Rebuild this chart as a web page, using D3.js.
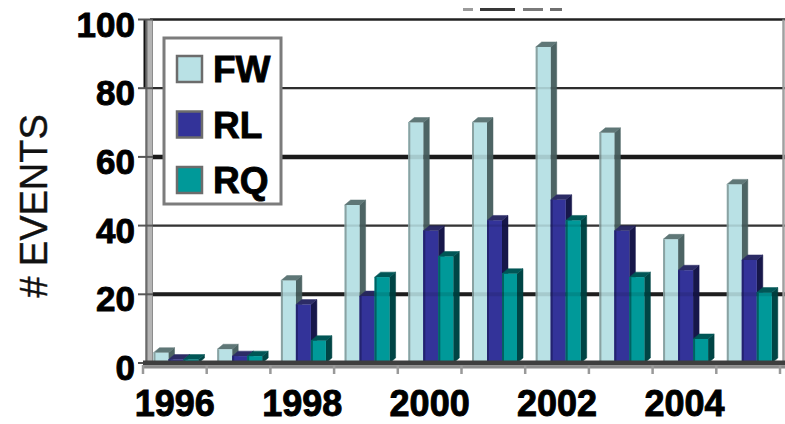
<!DOCTYPE html>
<html>
<head>
<meta charset="utf-8">
<script src="https://cdn.jsdelivr.net/npm/d3@7"></script>
<style>
  html, body { margin: 0; padding: 0; background: #fff; }
  svg { display: block; }
  text { font-family: "Liberation Sans", Arial, sans-serif; }
</style>
</head>
<body>
<svg id="chart" width="785" height="424"></svg>
<script>
// Events per year, three event types
const years = ["1996", "1997", "1998", "1999", "2000", "2001", "2002", "2003", "2004", "2005"];
const seriesNames = ["FW", "RL", "RQ"];
const fwValues = [3, 4, 24, 46, 70, 70, 92, 67, 36, 52];
const rlValues = [1, 2, 17, 19.5, 38.5, 41.5, 47.5, 38.5, 27, 30];
const rqValues = [1, 2, 6.5, 25, 31, 26, 41.5, 25, 7, 20.5];
const yTicks = [0, 20, 40, 60, 80, 100];
const xTickLabels = ["1996", "1998", "2000", "2002", "2004"];
const yTitle = "# EVENTS";

const seriesValues = [fwValues, rlValues, rqValues];

// face shades per series: front, side, top, outline
const palette = {
  FW: { front: "#b9e1e5", side: "#4d6464", top: "#5f7777", edge: "#8aa2a2" },
  RL: { front: "#333399", side: "#17174a", top: "#2c2c66", edge: "#232370" },
  RQ: { front: "#009999", side: "#004545", top: "#005656", edge: "#006262" }
};

const svg = d3.select("#chart");

const x0 = 143, x1 = 780;
const y = d3.scaleLinear().domain([0, 100]).range([363, 19.5]);
const x = d3.scaleBand().domain(years).range([x0, x1]).padding(0);
const xs = d3.scaleBand().domain(seriesNames).range([10.5, 55.5]).padding(0);
const depthX = 6, depthY = 5;

// back wall gridlines
const gridStyle = { 20: [4, "#222"], 40: [2.2, "#3a3a3a"], 60: [4.5, "#1e1e1e"], 80: [2.2, "#333"], 100: [2.6, "#222"] };
svg.append("g").selectAll("line")
  .data(yTicks.filter(d => d > 0))
  .join("line")
  .attr("x1", 150).attr("x2", 785)
  .attr("y1", d => y(d)).attr("y2", d => y(d))
  .attr("stroke", d => gridStyle[d][1])
  .attr("stroke-width", d => gridStyle[d][0]);

// right wall edge
svg.append("line")
  .attr("x1", 783.5).attr("x2", 783.5)
  .attr("y1", y(100)).attr("y2", y(0))
  .attr("stroke", "#a0a0a0").attr("stroke-width", 2.5);

// left side wall
svg.append("rect")
  .attr("x", 145).attr("y", y(100)).attr("width", 8).attr("height", y(0) - y(100))
  .attr("fill", "#b4b4b4");
svg.append("line")
  .attr("x1", 146.5).attr("x2", 146.5).attr("y1", y(100)).attr("y2", y(0))
  .attr("stroke", "#6a6a6a").attr("stroke-width", 2);
svg.append("line")
  .attr("x1", 144.5).attr("x2", 144.5).attr("y1", y(100)).attr("y2", y(80))
  .attr("stroke", "#111").attr("stroke-width", 2);
svg.append("line")
  .attr("x1", 152.5).attr("x2", 152.5).attr("y1", y(100)).attr("y2", y(0))
  .attr("stroke", "#8c8c8c").attr("stroke-width", 1);

// y ticks
svg.append("g").selectAll("line")
  .data(yTicks)
  .join("line")
  .attr("x1", 138).attr("x2", 153)
  .attr("y1", d => y(d)).attr("y2", d => y(d))
  .attr("stroke", "#555").attr("stroke-width", 2);

// y tick labels
svg.append("g").selectAll("text")
  .data(yTicks)
  .join("text")
  .attr("x", 135).attr("y", d => y(d) + 17)
  .attr("text-anchor", "end")
  .attr("font-size", 35).attr("font-weight", "bold")
  .attr("fill", "#000").attr("stroke", "#000").attr("stroke-width", 0.9)
  .text(d => d);

// axis title
svg.append("text")
  .attr("transform", "translate(47,206) rotate(-90)")
  .attr("text-anchor", "middle")
  .attr("font-size", 38)
  .attr("fill", "#111").attr("stroke", "#111").attr("stroke-width", 0.4)
  .text(yTitle);

// 3D columns
const rows = years.map((yr, i) => ({ year: yr, values: seriesNames.map((s, j) => ({ key: s, value: seriesValues[j][i] })) }));

const barsG = svg.append("g");
rows.forEach(row => {
  row.values.forEach(d => {
    const left = x(row.year) + xs(d.key);
    const w = xs.bandwidth();
    const top = y(d.value);
    const base = y(0);
    const c = palette[d.key];
    const g = barsG.append("g");
    // side face
    g.append("path")
      .attr("d", `M${left + w},${top} L${left + w + depthX},${top - depthY} L${left + w + depthX},${base - depthY} L${left + w},${base} Z`)
      .attr("fill", c.side).attr("stroke", c.side).attr("stroke-width", 0.5);
    // top face
    g.append("path")
      .attr("d", `M${left},${top} L${left + depthX},${top - depthY} L${left + w + depthX},${top - depthY} L${left + w},${top} Z`)
      .attr("fill", c.top).attr("stroke", c.top).attr("stroke-width", 0.5);
    // front face
    g.append("rect")
      .attr("x", left).attr("y", top).attr("width", w).attr("height", base - top)
      .attr("fill", c.front);
    g.append("line")
      .attr("x1", left + 1).attr("x2", left + 1).attr("y1", top).attr("y2", base)
      .attr("stroke", c.edge).attr("stroke-width", 2);
  });
});

// faint gridline show-through over the columns
svg.append("g").selectAll("line")
  .data(yTicks.filter(d => d > 0 && d < 100))
  .join("line")
  .attr("x1", 153).attr("x2", 783)
  .attr("y1", d => y(d)).attr("y2", d => y(d))
  .attr("stroke", "#000").attr("stroke-opacity", 0.1)
  .attr("stroke-width", d => gridStyle[d][0]);

// floor
svg.append("rect")
  .attr("x", x0).attr("y", y(0) - 2.5).attr("width", 785 - x0).attr("height", 5)
  .attr("fill", "#3e3e3e");
svg.append("rect")
  .attr("x", x0).attr("y", y(0) + 2.5).attr("width", 785 - x0).attr("height", 3)
  .attr("fill", "#8a8a8a");

// category boundary ticks
svg.append("g").selectAll("line")
  .data(years.map(d => x(d)).concat([x1]))
  .join("line")
  .attr("x1", d => d).attr("x2", d => d)
  .attr("y1", y(0) + 2).attr("y2", y(0) + 11)
  .attr("stroke", "#999").attr("stroke-width", 2.5);

// x tick labels (every other year)
svg.append("g").selectAll("text")
  .data(xTickLabels)
  .join("text")
  .attr("x", d => x(d) + x.bandwidth() / 2)
  .attr("y", 416)
  .attr("text-anchor", "middle")
  .attr("font-size", 36).attr("font-weight", "bold")
  .attr("fill", "#000").attr("stroke", "#000").attr("stroke-width", 0.9)
  .text(d => d);

// legend
const legend = svg.append("g");
legend.append("rect")
  .attr("x", 164).attr("y", 38).attr("width", 117).attr("height", 166)
  .attr("fill", "#fff").attr("stroke", "#7c7c7c").attr("stroke-width", 3);
const legendRows = legend.selectAll("g")
  .data(seriesNames)
  .join("g")
  .attr("transform", (d, i) => `translate(0,${i * 55.5})`);
legendRows.append("rect")
  .attr("x", 177).attr("y", 56).attr("width", 25).attr("height", 26)
  .attr("fill", d => palette[d].front)
  .attr("stroke", "#6c6c6c").attr("stroke-width", 2.5);
legendRows.append("text")
  .attr("x", 213).attr("y", 82)
  .attr("font-size", 37).attr("font-weight", "bold")
  .attr("fill", "#000").attr("stroke", "#000").attr("stroke-width", 0.9)
  .text(d => d);

// clipped title remnant along the top edge
const titleBits = [[463, 10, 0.45], [480, 35, 0.9], [523, 20, 0.6], [550, 12, 0.65]];
svg.append("g").selectAll("rect")
  .data(titleBits)
  .join("rect")
  .attr("x", d => d[0]).attr("y", 8).attr("width", d => d[1]).attr("height", 3)
  .attr("fill", "#222").attr("fill-opacity", d => d[2]);
</script>
</body>
</html>
